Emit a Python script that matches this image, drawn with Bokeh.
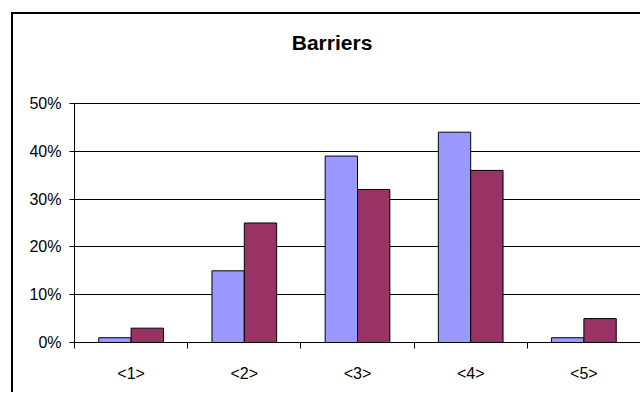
from bokeh.plotting import figure
from bokeh.models import ColumnDataSource, Range1d, FixedTicker, Label
from bokeh.embed import file_html
from bokeh.resources import INLINE

categories = ["<1>", "<2>", "<3>", "<4>", "<5>"]
series_a = [0.01, 0.15, 0.39, 0.44, 0.01]
series_b = [0.03, 0.25, 0.32, 0.36, 0.05]
y_ticks = [0.0, 0.1, 0.2, 0.3, 0.4, 0.5]
y_tick_labels = ["0%", "10%", "20%", "30%", "40%", "50%"]
title_text = "Barriers"

color_a = "#9999FF"
color_b = "#993366"

n = len(categories)
centers = [i + 0.5 for i in range(n)]
bar_w = 1 / 3.5
src = ColumnDataSource(dict(
    xa=[c - bar_w / 2 for c in centers],
    xb=[c + bar_w / 2 for c in centers],
    a=series_a, b=series_b,
))

# frame extends above the 50% line to host the chart title
p = figure(frame_width=566, frame_height=326,
           min_border_left=61, min_border_right=0,
           min_border_top=2, min_border_bottom=50,
           x_range=Range1d(0, n), y_range=Range1d(0, 0.682),
           output_backend="svg", toolbar_location=None,
           background_fill_color="white", border_fill_color="white")
p.styles = {"margin-left": "11px", "margin-top": "12px",
            "border-left": "2px solid #000000", "border-top": "2px solid #000000"}

p.vbar(x="xa", top="a", width=bar_w, source=src, fill_color=color_a,
       line_color="black", line_width=1)
p.vbar(x="xb", top="b", width=bar_w, source=src, fill_color=color_b,
       line_color="black", line_width=1)

# chart title, centred over the whole chart area (Excel style)
title = Label(x=2.275, y=0.628, text=title_text,
              text_font="Liberation Sans", text_font_style="bold",
              text_font_size="21px", text_color="black",
              text_align="center", text_baseline="middle")
p.add_layout(title)

p.outline_line_color = None
p.xgrid.grid_line_color = None
p.ygrid.ticker = FixedTicker(ticks=y_ticks)
p.ygrid.grid_line_color = "black"
p.ygrid.grid_line_width = 1

xa = p.xaxis[0]
xa.ticker = FixedTicker(ticks=centers, minor_ticks=list(range(n + 1)))
xa.major_label_overrides = {c: lab for c, lab in zip(centers, categories)}
xa.major_tick_out = 0
xa.major_tick_in = 0
xa.minor_tick_out = 6
xa.minor_tick_in = 0
xa.minor_tick_line_color = "black"
xa.axis_line_color = "black"
xa.major_label_standoff = 16
xa.major_label_text_font = "Liberation Sans"
xa.major_label_text_font_size = "16px"
xa.major_label_text_color = "black"

ya = p.yaxis[0]
ya.ticker = FixedTicker(ticks=y_ticks, minor_ticks=[])
ya.bounds = (y_ticks[0], y_ticks[-1])
ya.major_label_overrides = {t: lab for t, lab in zip(y_ticks, y_tick_labels)}
ya.major_tick_out = 5
ya.major_tick_in = 0
ya.axis_line_color = "black"
ya.major_tick_line_color = "black"
ya.major_label_standoff = 8
ya.major_label_text_font = "Liberation Sans"
ya.major_label_text_font_size = "16px"
ya.major_label_text_color = "black"

open("out.html", "w").write(file_html(p, INLINE))
